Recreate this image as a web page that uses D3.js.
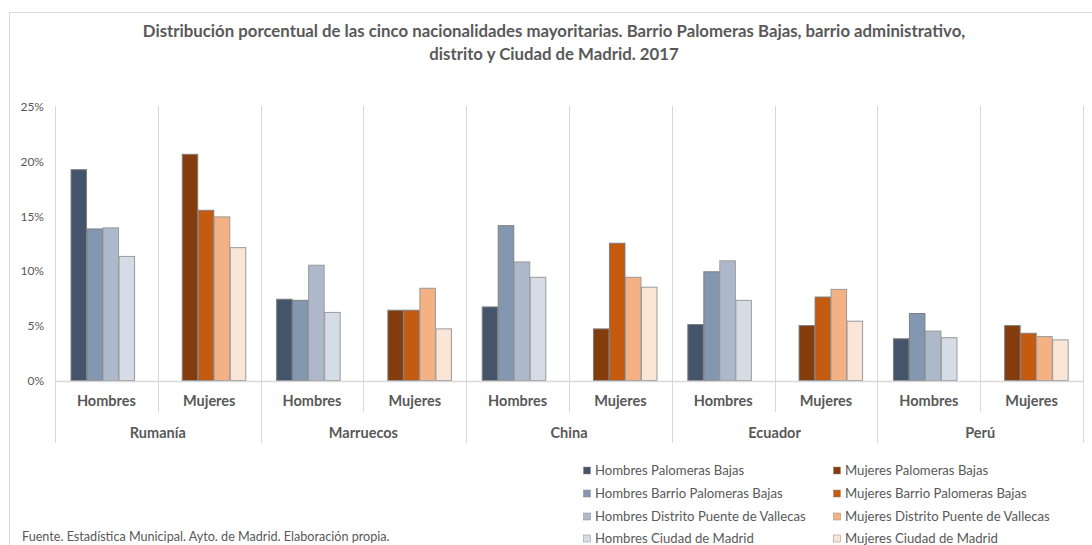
<!DOCTYPE html>
<html>
<head>
<meta charset="utf-8">
<script src="https://cdn.jsdelivr.net/npm/d3@7"></script>
<style>
  html, body { margin: 0; padding: 0; background: #fff; }
  svg { display: block; font-family: Lato, "Open Sans", sans-serif; }
</style>
</head>
<body>
<svg id="chart" width="1092" height="545"></svg>
<script>
// ---------- DATA ----------
const titleLines = [
  "Distribución porcentual de las cinco nacionalidades mayoritarias. Barrio Palomeras Bajas, barrio administrativo,",
  "distrito y Ciudad de Madrid. 2017"
];
const countries = ["Rumanía", "Marruecos", "China", "Ecuador", "Perú"];
const sexes = ["Hombres", "Mujeres"];
const yTicks = [0, 5, 10, 15, 20, 25];

const hombresSeriesNames = ["Hombres Palomeras Bajas", "Hombres Barrio Palomeras Bajas", "Hombres Distrito Puente de Vallecas", "Hombres Ciudad de Madrid"];
const mujeresSeriesNames = ["Mujeres Palomeras Bajas", "Mujeres Barrio Palomeras Bajas", "Mujeres Distrito Puente de Vallecas", "Mujeres Ciudad de Madrid"];

const hombresPalomerasBajas = [19.2, 7.4, 6.7, 5.1, 3.8];
const hombresBarrio         = [13.8, 7.3, 14.1, 9.9, 6.1];
const hombresDistrito       = [13.9, 10.5, 10.8, 10.9, 4.5];
const hombresCiudad         = [11.3, 6.2, 9.4, 7.3, 3.9];
const mujeresPalomerasBajas = [20.6, 6.4, 4.7, 5.0, 5.0];
const mujeresBarrio         = [15.5, 6.4, 12.5, 7.6, 4.3];
const mujeresDistrito       = [14.9, 8.4, 9.4, 8.3, 4.0];
const mujeresCiudad         = [12.1, 4.7, 8.5, 5.4, 3.7];

const hombresColors = ["#44546a", "#8497b0", "#adb9ca", "#d6dce5"];
const mujeresColors = ["#843c0c", "#c55a11", "#f4b183", "#fbe5d6"];

const sourceNote = "Fuente. Estadística Municipal. Ayto. de Madrid. Elaboración propia.";

// ---------- BUILD ----------
const hombresValues = [hombresPalomerasBajas, hombresBarrio, hombresDistrito, hombresCiudad];
const mujeresValues = [mujeresPalomerasBajas, mujeresBarrio, mujeresDistrito, mujeresCiudad];

const svg = d3.select("#chart");
const textColor = "#595959";
const gridColor = "#d9d9d9";

// chart border
svg.append("rect").attr("x", 9.5).attr("y", 12.5).attr("width", 1200).attr("height", 600)
  .attr("fill", "none").attr("stroke", gridColor).attr("stroke-width", 1);

function fit(sel, target) {
  const w = sel.node().getComputedTextLength();
  const fs = parseFloat(sel.attr("font-size"));
  const nf = fs * target / w;
  sel.attr("font-size", nf);
  return nf;
}

// title
const t1 = svg.append("text").attr("x", 554).attr("y", 37).attr("text-anchor", "middle")
  .attr("font-size", 15).attr("font-weight", "bold").attr("fill", textColor).text(titleLines[0]);
const titleFs = fit(t1, 823);
svg.append("text").attr("x", 554).attr("y", 60).attr("text-anchor", "middle")
  .attr("font-size", titleFs).attr("font-weight", "bold").attr("fill", textColor).text(titleLines[1]);

// scales
const left = 55, right = 1083, yTop = 106, yBase = 380.5;
const x0 = d3.scaleBand().domain(countries).range([left, right]).paddingInner(0).paddingOuter(0);
const x1 = d3.scaleBand().domain(sexes).range([0, x0.bandwidth()]);
const groupW = x1.bandwidth() * 0.623;
const x2 = d3.scaleBand().domain([0, 1, 2, 3]).range([0, groupW]);
const sexOffset = { Hombres: x1.bandwidth() * 0.151, Mujeres: x1.bandwidth() * 0.233 };
const y = d3.scaleLinear().domain([0, 25]).range([yBase, yTop]);

// vertical gridlines at category boundaries
const boundaries = [];
countries.forEach(c => {
  boundaries.push({ x: x0(c), country: true });
  boundaries.push({ x: x0(c) + x1("Mujeres"), country: false });
});
boundaries.push({ x: right, country: true });

svg.append("g").selectAll("line").data(boundaries).join("line")
  .attr("x1", d => Math.round(d.x) + 0.5).attr("x2", d => Math.round(d.x) + 0.5)
  .attr("y1", yTop).attr("y2", d => d.country ? 443 : 412)
  .attr("stroke", gridColor).attr("stroke-width", 1);

// y axis labels
const yAxis = svg.append("g").attr("transform", "translate(44,0)")
  .call(d3.axisLeft(y).tickValues(yTicks).tickFormat(d => d + "%").tickSize(0).tickPadding(0));
yAxis.select(".domain").remove();
yAxis.selectAll("text").attr("fill", textColor).attr("font-size", 12).attr("font-family", "Lato, sans-serif")
  .attr("dy", "0.35em");

// bars
const barData = [];
countries.forEach((c, ci) => {
  sexes.forEach(s => {
    const vals = s === "Hombres" ? hombresValues : mujeresValues;
    const cols = s === "Hombres" ? hombresColors : mujeresColors;
    vals.forEach((arr, si) => barData.push({ country: c, sex: s, si, value: arr[ci], color: cols[si] }));
  });
});

svg.append("g").selectAll("rect").data(barData).join("rect")
  .attr("x", d => x0(d.country) + x1(d.sex) + sexOffset[d.sex] + x2(d.si) + 0.5)
  .attr("width", x2.bandwidth() - 0.5)
  .attr("y", d => y(d.value))
  .attr("height", d => yBase - y(d.value))
  .attr("fill", d => d.color)
  .attr("stroke", d => d.si >= 2 ? "#9a9a9a" : "#7f7f7f")
  .attr("stroke-width", 1);

// x axis baseline
svg.append("line").attr("x1", left).attr("x2", right).attr("y1", yBase + 1).attr("y2", yBase + 1)
  .attr("stroke", gridColor).attr("stroke-width", 1.5);

// sex labels
const sexLabelData = [];
countries.forEach(c => sexes.forEach(s => sexLabelData.push({ c, s })));
const sexLabels = svg.append("g").selectAll("text").data(sexLabelData).join("text")
  .attr("x", d => x0(d.c) + x1(d.s) + x1.bandwidth() / 2)
  .attr("y", 406)
  .attr("text-anchor", "middle")
  .attr("font-size", 14.5).attr("font-weight", "bold").attr("fill", textColor)
  .text(d => d.s);
const labFs = fit(d3.select(sexLabels.nodes()[0]), 59);
sexLabels.attr("font-size", labFs);

// country labels
svg.append("g").selectAll("text").data(countries).join("text")
  .attr("x", d => x0(d) + x0.bandwidth() / 2)
  .attr("y", 438)
  .attr("text-anchor", "middle")
  .attr("font-size", labFs).attr("font-weight", "bold").attr("fill", textColor)
  .text(d => d);

// legend
const legendCols = [
  { names: hombresSeriesNames, colors: hombresColors, x: 583 },
  { names: mujeresSeriesNames, colors: mujeresColors, x: 833 }
];
const rowY = [470.5, 493.5, 516.5, 538.5];
const legend = svg.append("g");
legendCols.forEach(col => {
  col.names.forEach((n, i) => {
    legend.append("rect").attr("x", col.x + 0.5).attr("y", rowY[i] - 3.5).attr("width", 7).attr("height", 7)
      .attr("fill", col.colors[i]).attr("stroke", "#8a8a8a").attr("stroke-width", 0.5);
    legend.append("text").attr("class", "legtxt").attr("x", col.x + 12).attr("y", rowY[i]).attr("dy", "0.35em")
      .attr("font-size", 13).attr("fill", textColor).text(n);
  });
});
const legTexts = legend.selectAll(".legtxt");
const legFs = fit(d3.select(legTexts.nodes()[2]), 211);
legTexts.attr("font-size", legFs);

// source note
const src = svg.append("text").attr("x", 22).attr("y", 541).attr("font-size", 12).attr("fill", textColor).text(sourceNote);
fit(src, 368);
</script>
</body>
</html>
